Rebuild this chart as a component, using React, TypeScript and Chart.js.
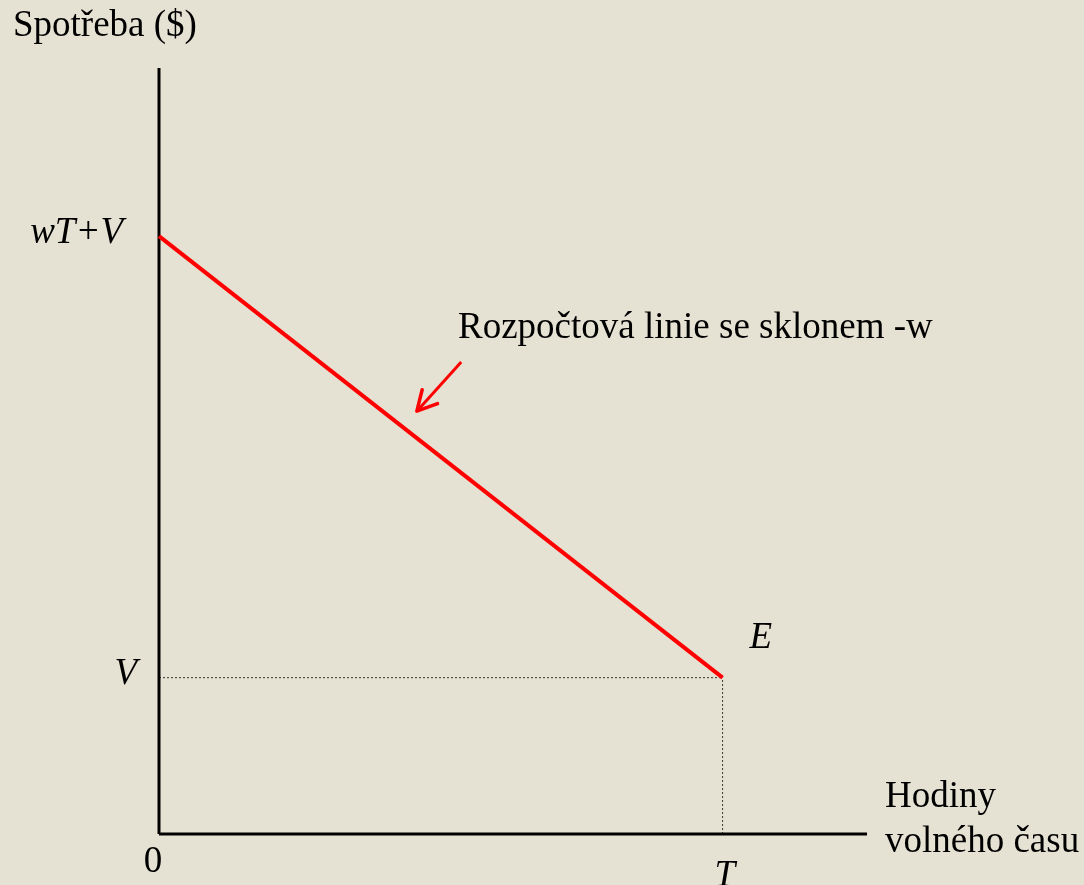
import React, { useEffect, useRef } from "react";
import { Chart, registerables } from "chart.js";

Chart.register(...registerables);

// Axis extents (data units)
const X_MAX = 10.05;
const Y_MAX = 9.8;
// Key values
const T_VALUE = 8; // total time T
const V_VALUE = 2; // non-labour income V
const WTV_VALUE = 7.65; // wT + V
// Budget line points
const budgetX = [0, T_VALUE];
const budgetY = [WTV_VALUE, V_VALUE];
// Annotation arrow (tail -> tip)
const arrowX = [4.29, 3.66];
const arrowY = [6.04, 5.41];
// Texts
const yAxisTitle = "Spotřeba ($)";
const xAxisTitle = ["Hodiny", "volného času"];
const budgetLabel = "Rozpočtová linie se sklonem -w";
const yTickLabels = ["wT+V", "V"];
const xTickLabels = ["0", "T"];
const pointLabel = "E";

const BG = "#E6E2D3";
const SERIF = "'Liberation Serif', 'Times New Roman', serif";
const FS = 37;

const labelsPlugin = {
  id: "labels",
  afterDatasetsDraw(chart: any) {
    const { ctx } = chart;
    const xs = chart.scales.x;
    const ys = chart.scales.y;
    const px = (v: number) => xs.getPixelForValue(v);
    const py = (v: number) => ys.getPixelForValue(v);
    ctx.save();

    // arrowhead
    const tipX = px(arrowX[1]);
    const tipY = py(arrowY[1]);
    const tailX = px(arrowX[0]);
    const tailY = py(arrowY[0]);
    const ang = Math.atan2(tailY - tipY, tailX - tipX);
    const wing = 22;
    const spread = (28 * Math.PI) / 180;
    ctx.strokeStyle = "#FF0000";
    ctx.lineWidth = 3.5;
    ctx.lineCap = "round";
    ctx.lineJoin = "round";
    ctx.beginPath();
    ctx.moveTo(tipX + wing * Math.cos(ang - spread), tipY + wing * Math.sin(ang - spread));
    ctx.lineTo(tipX, tipY);
    ctx.lineTo(tipX + wing * Math.cos(ang + spread), tipY + wing * Math.sin(ang + spread));
    ctx.stroke();

    ctx.fillStyle = "#000000";
    ctx.textBaseline = "alphabetic";

    // upright texts
    ctx.font = `${FS}px ${SERIF}`;
    ctx.textAlign = "left";
    ctx.fillText(yAxisTitle, 13, 36);
    ctx.fillText(budgetLabel, 458, 338);
    ctx.fillText(xAxisTitle[0], px(X_MAX) + 18, py(0) - 27);
    ctx.fillText(xAxisTitle[1], px(X_MAX) + 18, py(0) + 18);
    ctx.textAlign = "center";
    ctx.fillText(xTickLabels[0], px(0) - 6, py(0) + 38);

    // italic texts
    ctx.font = `italic ${FS}px ${SERIF}`;
    ctx.textAlign = "right";
    ctx.fillText(yTickLabels[0], px(0) - 36, py(WTV_VALUE) + 7);
    ctx.fillText(yTickLabels[1], px(0) - 22, py(V_VALUE) + 6);
    ctx.textAlign = "left";
    ctx.fillText(xTickLabels[1], px(T_VALUE) - 8, py(0) + 52);
    ctx.fillText(pointLabel, px(T_VALUE) + 27, py(V_VALUE) - 30);

    ctx.restore();
  },
};

export default function App() {
  const canvasRef = useRef<HTMLCanvasElement | null>(null);

  useEffect(() => {
    document.body.style.margin = "0";
    document.body.style.background = BG;
    const canvas = canvasRef.current;
    if (!canvas) return;
    const chart = new Chart(canvas, {
      type: "scatter",
      data: {
        datasets: [
          {
            label: "budget",
            data: budgetX.map((x, i) => ({ x, y: budgetY[i] })),
            showLine: true,
            borderColor: "#FF0000",
            borderWidth: 4,
            pointRadius: 0,
            clip: false,
            order: 0,
          },
          {
            label: "arrow",
            data: arrowX.map((x, i) => ({ x, y: arrowY[i] })),
            showLine: true,
            borderColor: "#FF0000",
            borderWidth: 3,
            pointRadius: 0,
            clip: false,
            order: 1,
          },
          {
            label: "yAxis",
            data: [
              { x: 0, y: 0 },
              { x: 0, y: Y_MAX },
            ],
            showLine: true,
            borderColor: "#000000",
            borderWidth: 3,
            pointRadius: 0,
            clip: false,
            order: 2,
          },
          {
            label: "xAxis",
            data: [
              { x: 0, y: 0 },
              { x: X_MAX, y: 0 },
            ],
            showLine: true,
            borderColor: "#000000",
            borderWidth: 3,
            pointRadius: 0,
            clip: false,
            order: 3,
          },
          {
            label: "vGuide",
            data: [
              { x: 0, y: V_VALUE },
              { x: T_VALUE, y: V_VALUE },
            ],
            showLine: true,
            borderColor: "#333333",
            borderWidth: 1,
            borderDash: [2, 2],
            pointRadius: 0,
            clip: false,
            order: 4,
          },
          {
            label: "tGuide",
            data: [
              { x: T_VALUE, y: 0 },
              { x: T_VALUE, y: V_VALUE },
            ],
            showLine: true,
            borderColor: "#333333",
            borderWidth: 1,
            borderDash: [2, 2],
            pointRadius: 0,
            clip: false,
            order: 5,
          },
        ],
      },
      options: {
        animation: false,
        responsive: false,
        events: [],
        layout: { padding: { left: 159, top: 68, right: 217, bottom: 51 } },
        plugins: { legend: { display: false }, tooltip: { enabled: false } },
        scales: {
          x: { type: "linear", min: 0, max: X_MAX, display: false },
          y: { type: "linear", min: 0, max: Y_MAX, display: false },
        },
      },
      plugins: [labelsPlugin],
    });
    return () => chart.destroy();
  }, []);

  return (
    <div style={{ position: "fixed", left: 0, top: 0, width: 1084, height: 885, background: BG }}>
      <canvas ref={canvasRef} width={1084} height={885} style={{ display: "block" }} />
    </div>
  );
}
